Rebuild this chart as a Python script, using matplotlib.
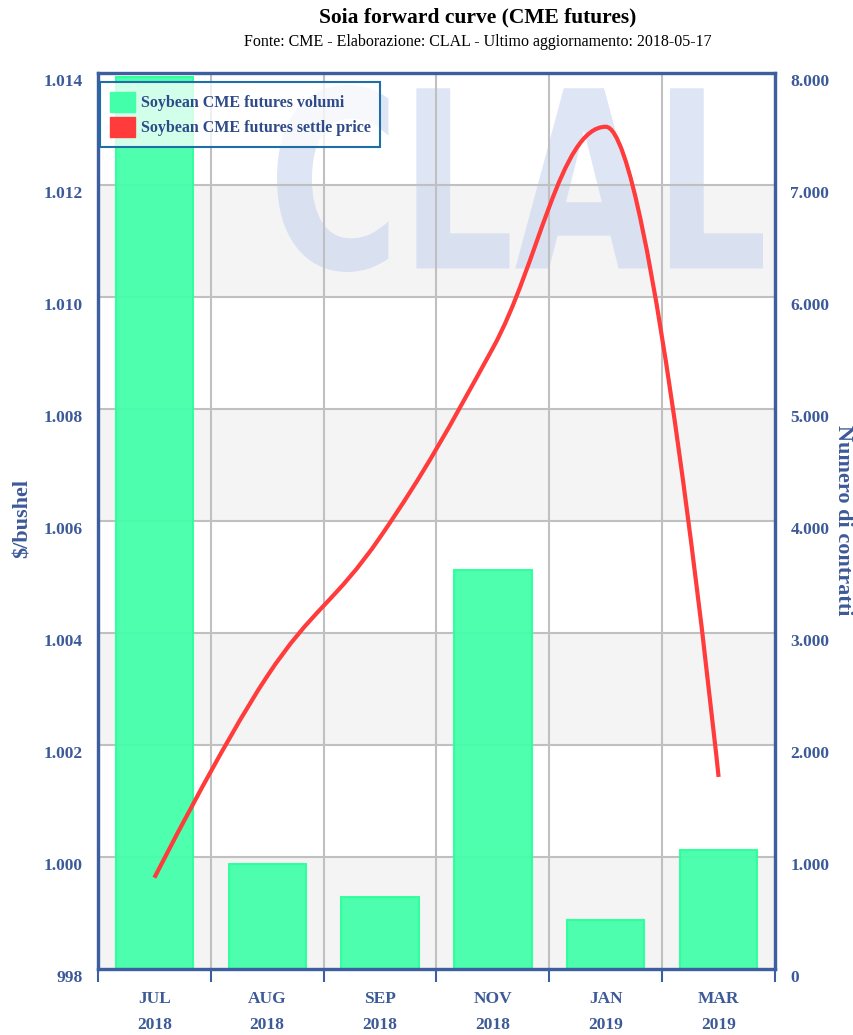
# Soia forward curve (CME futures) - rebuilt from the CLAL chart
import numpy as np
import matplotlib
matplotlib.use("Agg")
import matplotlib.pyplot as plt
from matplotlib.path import Path
from matplotlib.patches import PathPatch, Patch
from matplotlib.textpath import TextPath
from matplotlib.font_manager import FontProperties
from matplotlib.transforms import Affine2D, ScaledTranslation
import matplotlib.ticker as mtick

plt.rcParams['font.family'] = ['Liberation Serif', 'DejaVu Serif']

######################## data ########################
months = ['JUL', 'AUG', 'SEP', 'NOV', 'JAN', 'MAR']
years = ['2018', '2018', '2018', '2018', '2019', '2019']
volumi = [7960, 940, 645, 3560, 440, 1065]            # Numero di contratti (right axis)
settle = [999.63, 1003.23, 1005.71, 1009.09, 1013.04, 1001.43]   # $/bushel (left axis)

price_ticks = np.arange(998, 1015, 2)
vol_ticks = np.arange(0, 8001, 1000)

blue = '#3d5a98'
frame_blue = '#3d5f9f'
green = '#44ffaa'
red = '#ff3b3b'


def it_fmt(v, pos=None):
    # italian thousands separator: 1.000, 8.000
    return f"{int(round(v)):,}".replace(",", ".")


def spline_path(xs, ys, smoothing=1.5):
    # same kind of bezier spline the web chart uses
    n = len(xs)
    denom = smoothing + 1
    lc = [None] * n
    rc = [None] * n
    for i in range(1, n - 1):
        px, py = xs[i], ys[i]
        lx, ly = xs[i - 1], ys[i - 1]
        nx, ny = xs[i + 1], ys[i + 1]
        lcx = (smoothing * px + lx) / denom
        lcy = (smoothing * py + ly) / denom
        rcx = (smoothing * px + nx) / denom
        rcy = (smoothing * py + ny) / denom
        corr = 0
        if rcx != lcx:
            corr = (rcy - lcy) * (rcx - px) / (rcx - lcx) + py - rcy
        lcy += corr
        rcy += corr
        if lcy > ly and lcy > py:
            lcy = max(ly, py); rcy = 2 * py - lcy
        elif lcy < ly and lcy < py:
            lcy = min(ly, py); rcy = 2 * py - lcy
        if rcy > ny and rcy > py:
            rcy = max(ny, py); lcy = 2 * py - rcy
        elif rcy < ny and rcy < py:
            rcy = min(ny, py); lcy = 2 * py - rcy
        lc[i] = (lcx, lcy)
        rc[i] = (rcx, rcy)
    verts = [(xs[0], ys[0])]
    codes = [Path.MOVETO]
    for i in range(1, n):
        c1 = rc[i - 1] if rc[i - 1] is not None else (xs[i - 1], ys[i - 1])
        c2 = lc[i] if lc[i] is not None else (xs[i], ys[i])
        verts += [c1, c2, (xs[i], ys[i])]
        codes += [Path.CURVE4] * 3
    return Path(verts, codes)


######################## figure ########################
fig = plt.figure(figsize=(8.54, 10.35), dpi=100)
ax = fig.add_axes([98 / 854, 66 / 1035, 677 / 854, 896 / 1035])   # bars, right scale
ax2 = ax.twinx()                                                   # line, left scale
x = np.arange(len(months))

ax.set_xlim(-0.5, len(months) - 0.5)
ax.set_ylim(0, 8000)
ax2.set_ylim(998, 1014)

# background bands + grid
for k in range(0, 8000, 2000):
    ax.axhspan(k, k + 1000, color='#f4f4f4', zorder=0.1, lw=0)
for t in vol_ticks[1:-1]:
    ax.axhline(t, color='#c0c0c0', lw=1.5, zorder=1)
for b in np.arange(0.5, len(months) - 1, 1):
    ax.axvline(b, color='#c0c0c0', lw=1.5, zorder=1)

# CLAL watermark
tp = TextPath((0, 0), "CLAL", prop=FontProperties(family='DejaVu Sans', weight='bold'))
ext = tp.get_extents()
x0, x1 = (277 - 98) / 677, (763 - 98) / 677
y0, y1 = (969 - 272) / 896, (969 - 85) / 896
tr = Affine2D().translate(-ext.x0, -ext.y0).scale((x1 - x0) / ext.width, (y1 - y0) / ext.height).translate(x0, y0)
ax.add_patch(PathPatch(tr.transform_path(tp), transform=ax.transAxes, facecolor='#c8d4ee',
                       alpha=0.6, lw=0, zorder=0.5))

# bars
ax.bar(x, volumi, width=0.684, color=green, alpha=0.95, edgecolor='#2dff9b', lw=1.5, zorder=2)

# spline line
ax2.add_patch(PathPatch(spline_path(list(x), settle), fill=False, edgecolor=red, lw=3,
                        capstyle='butt', zorder=3))

# ticks and labels
ax.yaxis.tick_right()
ax2.yaxis.tick_left()
ax.set_yticks(vol_ticks)
ax2.set_yticks(price_ticks)
ax.yaxis.set_major_formatter(mtick.FuncFormatter(it_fmt))
ax2.yaxis.set_major_formatter(mtick.FuncFormatter(it_fmt))
down = ScaledTranslation(0, -7 / 100, fig.dpi_scale_trans)   # labels sit a bit under the grid line
for a in (ax, ax2):
    a.tick_params(axis='y', length=0, pad=11, labelsize=12.5, labelcolor=blue)
    for lab in a.get_yticklabels():
        lab.set_fontweight('bold')
        lab.set_transform(lab.get_transform() + down)
    for s in a.spines.values():
        s.set_color(frame_blue)
        s.set_linewidth(2.3)

ax.set_xticks(x)
ax.set_xticklabels([m + '\n' + y for m, y in zip(months, years)], fontsize=12.5,
                   fontweight='bold', color=blue, linespacing=1.8)
ax.tick_params(axis='x', which='major', length=0, pad=16)
ax.set_xticks(np.arange(-0.5, len(months), 1), minor=True)
ax.tick_params(axis='x', which='minor', length=9, width=1.5, color=frame_blue)

fig.text(23 / 854, 1 - 519 / 1035, '$/bushel', rotation=90, ha='center', va='center',
         fontsize=16, fontweight='bold', color=blue)
fig.text(843 / 854, 1 - 520 / 1035, 'Numero di contratti', rotation=-90, ha='center', va='center',
         fontsize=16, fontweight='bold', color=blue)

# titles
fig.text(478 / 854, 1 - 17 / 1035, 'Soia forward curve (CME futures)', ha='center', va='center',
         fontsize=15.5, fontweight='bold', color='black')
fig.text(478 / 854, 1 - 42 / 1035, 'Fonte: CME - Elaborazione: CLAL - Ultimo aggiornamento: 2018-05-17',
         ha='center', va='center', fontsize=11.5, color='black')

# legend
handles = [Patch(facecolor=green, edgecolor=green), Patch(facecolor=red, edgecolor=red)]
leg = ax2.legend(handles, ['Soybean CME futures volumi', 'Soybean CME futures settle price'],
                 loc='upper left', bbox_to_anchor=(0.003, 0.99), borderaxespad=0,
                 fancybox=False, edgecolor='#1f6ea8',
                 prop={'weight': 'bold', 'size': 11.5}, labelcolor='#2e4a88',
                 handlelength=1.6, handleheight=1.6, handletextpad=0.35, labelspacing=0.3,
                 borderpad=0.6)
frame = leg.get_frame()
frame.set_alpha(None)
frame.set_facecolor((1, 1, 1, 0.75))
frame.set_edgecolor('#1f6ea8')
frame.set_linewidth(1.5)

fig.savefig('out.png', dpi=100)
